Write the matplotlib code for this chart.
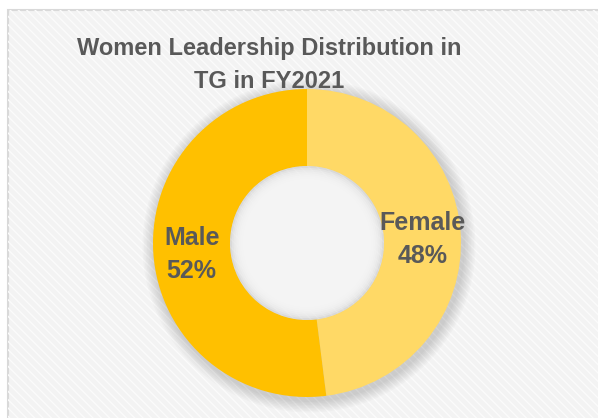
import numpy as np
import matplotlib.pyplot as plt
from matplotlib.patches import Rectangle, Circle

# === DATA ===
labels = ['Female', 'Male']
values = [48, 52]
colors = ['#FFD966', '#FFC000']
title = 'Women Leadership Distribution in\nTG in FY2021'

plt.rcParams['font.family'] = ['Liberation Sans', 'DejaVu Sans']

W, H = 598, 418
fig = plt.figure(figsize=(W / 100, H / 100), dpi=100)
ax = fig.add_axes([0, 0, 1, 1])

# === BACKGROUND / FRAME ===
ax.add_patch(Rectangle((8, -10), W, H, facecolor='#F3F3F3',
                       edgecolor='#D9D9D9', linewidth=1.5, zorder=0))
ax.add_patch(Rectangle((8, -10), W, H, facecolor='none',
                       edgecolor='#FBFBFB', hatch='\\\\\\\\', linewidth=0, zorder=0.5))

cx, cy, r = 307, H - 243, 154

# soft shadow around ring
for k in range(8):
    ax.add_patch(Circle((cx + 2, cy - 3), r + 2 + k * 1.5, facecolor='#000000',
                        alpha=0.018, linewidth=0, zorder=1))
for k in range(8):
    ax.add_patch(Circle((cx, cy), r * 0.5 - k * 1.8, facecolor='#F6F6F6',
                        alpha=0.35, linewidth=0, zorder=3))

wedges = ax.pie(values, colors=colors, startangle=90, counterclock=False,
                center=(cx, cy), radius=r, wedgeprops=dict(width=r * 0.5, linewidth=0))[0]
for w in wedges:
    w.set_zorder(2)

ang = 90
for lab, v in zip(labels, values):
    mid = np.deg2rad(ang - v * 3.6 / 2)
    ang -= v * 3.6
    ax.text(cx + 0.75 * r * np.cos(mid), cy + 0.75 * r * np.sin(mid) - 4, f'{lab}\n{v}%',
            ha='center', va='center', fontsize=18, fontweight='bold', color='#595959',
            linespacing=1.5, zorder=4)

ax.text(269, H - 65, title, ha='center', va='center', fontsize=17,
        fontweight='bold', color='#595959', linespacing=1.5, zorder=4)

ax.set_xlim(0, W)
ax.set_ylim(0, H)
ax.set_aspect('auto')
ax.axis('off')

plt.savefig('out.png', dpi=100)
